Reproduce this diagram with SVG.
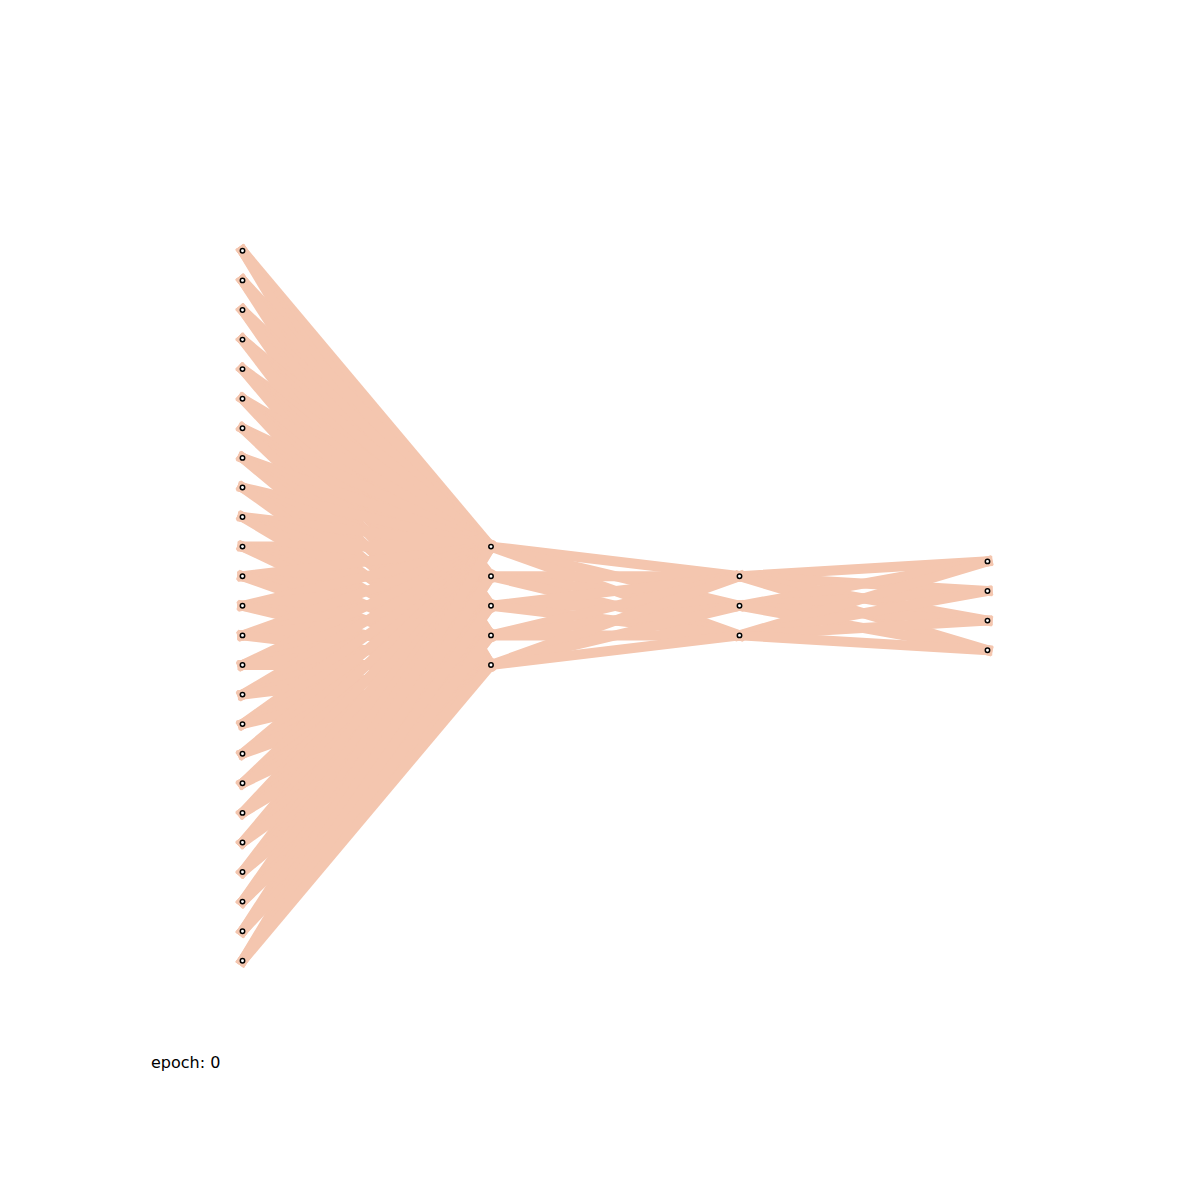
<svg xmlns="http://www.w3.org/2000/svg" width="1200" height="1200" viewBox="0 0 1200 1200">
<style>
.e{stroke:#f4c6af;stroke-width:10;stroke-linecap:square;fill:none}
.n{fill:#ffffff;stroke:#000000;stroke-width:1.5}
.t{font-family:"DejaVu Sans",sans-serif;font-size:16px;fill:#000000}
</style>
<rect width="1200" height="1200" fill="#ffffff"/>
<g transform="translate(0.5,0.8)">
<g id="connectors">
<g id="l0">
<line class="e" x1="242" y1="250" x2="490.5" y2="545.8"/><line class="e" x1="242" y1="250" x2="490.5" y2="575.4"/><line class="e" x1="242" y1="250" x2="490.5" y2="605"/><line class="e" x1="242" y1="250" x2="490.5" y2="634.6"/><line class="e" x1="242" y1="250" x2="490.5" y2="664.2"/>
<line class="e" x1="242" y1="279.6" x2="490.5" y2="545.8"/><line class="e" x1="242" y1="279.6" x2="490.5" y2="575.4"/><line class="e" x1="242" y1="279.6" x2="490.5" y2="605"/><line class="e" x1="242" y1="279.6" x2="490.5" y2="634.6"/><line class="e" x1="242" y1="279.6" x2="490.5" y2="664.2"/>
<line class="e" x1="242" y1="309.2" x2="490.5" y2="545.8"/><line class="e" x1="242" y1="309.2" x2="490.5" y2="575.4"/><line class="e" x1="242" y1="309.2" x2="490.5" y2="605"/><line class="e" x1="242" y1="309.2" x2="490.5" y2="634.6"/><line class="e" x1="242" y1="309.2" x2="490.5" y2="664.2"/>
<line class="e" x1="242" y1="338.8" x2="490.5" y2="545.8"/><line class="e" x1="242" y1="338.8" x2="490.5" y2="575.4"/><line class="e" x1="242" y1="338.8" x2="490.5" y2="605"/><line class="e" x1="242" y1="338.8" x2="490.5" y2="634.6"/><line class="e" x1="242" y1="338.8" x2="490.5" y2="664.2"/>
<line class="e" x1="242" y1="368.3" x2="490.5" y2="545.8"/><line class="e" x1="242" y1="368.3" x2="490.5" y2="575.4"/><line class="e" x1="242" y1="368.3" x2="490.5" y2="605"/><line class="e" x1="242" y1="368.3" x2="490.5" y2="634.6"/><line class="e" x1="242" y1="368.3" x2="490.5" y2="664.2"/>
<line class="e" x1="242" y1="397.9" x2="490.5" y2="545.8"/><line class="e" x1="242" y1="397.9" x2="490.5" y2="575.4"/><line class="e" x1="242" y1="397.9" x2="490.5" y2="605"/><line class="e" x1="242" y1="397.9" x2="490.5" y2="634.6"/><line class="e" x1="242" y1="397.9" x2="490.5" y2="664.2"/>
<line class="e" x1="242" y1="427.5" x2="490.5" y2="545.8"/><line class="e" x1="242" y1="427.5" x2="490.5" y2="575.4"/><line class="e" x1="242" y1="427.5" x2="490.5" y2="605"/><line class="e" x1="242" y1="427.5" x2="490.5" y2="634.6"/><line class="e" x1="242" y1="427.5" x2="490.5" y2="664.2"/>
<line class="e" x1="242" y1="457.1" x2="490.5" y2="545.8"/><line class="e" x1="242" y1="457.1" x2="490.5" y2="575.4"/><line class="e" x1="242" y1="457.1" x2="490.5" y2="605"/><line class="e" x1="242" y1="457.1" x2="490.5" y2="634.6"/><line class="e" x1="242" y1="457.1" x2="490.5" y2="664.2"/>
<line class="e" x1="242" y1="486.7" x2="490.5" y2="545.8"/><line class="e" x1="242" y1="486.7" x2="490.5" y2="575.4"/><line class="e" x1="242" y1="486.7" x2="490.5" y2="605"/><line class="e" x1="242" y1="486.7" x2="490.5" y2="634.6"/><line class="e" x1="242" y1="486.7" x2="490.5" y2="664.2"/>
<line class="e" x1="242" y1="516.2" x2="490.5" y2="545.8"/><line class="e" x1="242" y1="516.2" x2="490.5" y2="575.4"/><line class="e" x1="242" y1="516.2" x2="490.5" y2="605"/><line class="e" x1="242" y1="516.2" x2="490.5" y2="634.6"/><line class="e" x1="242" y1="516.2" x2="490.5" y2="664.2"/>
<line class="e" x1="242" y1="545.8" x2="490.5" y2="545.8"/><line class="e" x1="242" y1="545.8" x2="490.5" y2="575.4"/><line class="e" x1="242" y1="545.8" x2="490.5" y2="605"/><line class="e" x1="242" y1="545.8" x2="490.5" y2="634.6"/><line class="e" x1="242" y1="545.8" x2="490.5" y2="664.2"/>
<line class="e" x1="242" y1="575.4" x2="490.5" y2="545.8"/><line class="e" x1="242" y1="575.4" x2="490.5" y2="575.4"/><line class="e" x1="242" y1="575.4" x2="490.5" y2="605"/><line class="e" x1="242" y1="575.4" x2="490.5" y2="634.6"/><line class="e" x1="242" y1="575.4" x2="490.5" y2="664.2"/>
<line class="e" x1="242" y1="605" x2="490.5" y2="545.8"/><line class="e" x1="242" y1="605" x2="490.5" y2="575.4"/><line class="e" x1="242" y1="605" x2="490.5" y2="605"/><line class="e" x1="242" y1="605" x2="490.5" y2="634.6"/><line class="e" x1="242" y1="605" x2="490.5" y2="664.2"/>
<line class="e" x1="242" y1="634.6" x2="490.5" y2="545.8"/><line class="e" x1="242" y1="634.6" x2="490.5" y2="575.4"/><line class="e" x1="242" y1="634.6" x2="490.5" y2="605"/><line class="e" x1="242" y1="634.6" x2="490.5" y2="634.6"/><line class="e" x1="242" y1="634.6" x2="490.5" y2="664.2"/>
<line class="e" x1="242" y1="664.2" x2="490.5" y2="545.8"/><line class="e" x1="242" y1="664.2" x2="490.5" y2="575.4"/><line class="e" x1="242" y1="664.2" x2="490.5" y2="605"/><line class="e" x1="242" y1="664.2" x2="490.5" y2="634.6"/><line class="e" x1="242" y1="664.2" x2="490.5" y2="664.2"/>
<line class="e" x1="242" y1="693.8" x2="490.5" y2="545.8"/><line class="e" x1="242" y1="693.8" x2="490.5" y2="575.4"/><line class="e" x1="242" y1="693.8" x2="490.5" y2="605"/><line class="e" x1="242" y1="693.8" x2="490.5" y2="634.6"/><line class="e" x1="242" y1="693.8" x2="490.5" y2="664.2"/>
<line class="e" x1="242" y1="723.3" x2="490.5" y2="545.8"/><line class="e" x1="242" y1="723.3" x2="490.5" y2="575.4"/><line class="e" x1="242" y1="723.3" x2="490.5" y2="605"/><line class="e" x1="242" y1="723.3" x2="490.5" y2="634.6"/><line class="e" x1="242" y1="723.3" x2="490.5" y2="664.2"/>
<line class="e" x1="242" y1="752.9" x2="490.5" y2="545.8"/><line class="e" x1="242" y1="752.9" x2="490.5" y2="575.4"/><line class="e" x1="242" y1="752.9" x2="490.5" y2="605"/><line class="e" x1="242" y1="752.9" x2="490.5" y2="634.6"/><line class="e" x1="242" y1="752.9" x2="490.5" y2="664.2"/>
<line class="e" x1="242" y1="782.5" x2="490.5" y2="545.8"/><line class="e" x1="242" y1="782.5" x2="490.5" y2="575.4"/><line class="e" x1="242" y1="782.5" x2="490.5" y2="605"/><line class="e" x1="242" y1="782.5" x2="490.5" y2="634.6"/><line class="e" x1="242" y1="782.5" x2="490.5" y2="664.2"/>
<line class="e" x1="242" y1="812.1" x2="490.5" y2="545.8"/><line class="e" x1="242" y1="812.1" x2="490.5" y2="575.4"/><line class="e" x1="242" y1="812.1" x2="490.5" y2="605"/><line class="e" x1="242" y1="812.1" x2="490.5" y2="634.6"/><line class="e" x1="242" y1="812.1" x2="490.5" y2="664.2"/>
<line class="e" x1="242" y1="841.7" x2="490.5" y2="545.8"/><line class="e" x1="242" y1="841.7" x2="490.5" y2="575.4"/><line class="e" x1="242" y1="841.7" x2="490.5" y2="605"/><line class="e" x1="242" y1="841.7" x2="490.5" y2="634.6"/><line class="e" x1="242" y1="841.7" x2="490.5" y2="664.2"/>
<line class="e" x1="242" y1="871.2" x2="490.5" y2="545.8"/><line class="e" x1="242" y1="871.2" x2="490.5" y2="575.4"/><line class="e" x1="242" y1="871.2" x2="490.5" y2="605"/><line class="e" x1="242" y1="871.2" x2="490.5" y2="634.6"/><line class="e" x1="242" y1="871.2" x2="490.5" y2="664.2"/>
<line class="e" x1="242" y1="900.8" x2="490.5" y2="545.8"/><line class="e" x1="242" y1="900.8" x2="490.5" y2="575.4"/><line class="e" x1="242" y1="900.8" x2="490.5" y2="605"/><line class="e" x1="242" y1="900.8" x2="490.5" y2="634.6"/><line class="e" x1="242" y1="900.8" x2="490.5" y2="664.2"/>
<line class="e" x1="242" y1="930.4" x2="490.5" y2="545.8"/><line class="e" x1="242" y1="930.4" x2="490.5" y2="575.4"/><line class="e" x1="242" y1="930.4" x2="490.5" y2="605"/><line class="e" x1="242" y1="930.4" x2="490.5" y2="634.6"/><line class="e" x1="242" y1="930.4" x2="490.5" y2="664.2"/>
<line class="e" x1="242" y1="960" x2="490.5" y2="545.8"/><line class="e" x1="242" y1="960" x2="490.5" y2="575.4"/><line class="e" x1="242" y1="960" x2="490.5" y2="605"/><line class="e" x1="242" y1="960" x2="490.5" y2="634.6"/><line class="e" x1="242" y1="960" x2="490.5" y2="664.2"/>
</g>
<g id="l1">
<line class="e" x1="490.5" y1="545.8" x2="739" y2="575.4"/><line class="e" x1="490.5" y1="545.8" x2="739" y2="605"/><line class="e" x1="490.5" y1="545.8" x2="739" y2="634.6"/>
<line class="e" x1="490.5" y1="575.4" x2="739" y2="575.4"/><line class="e" x1="490.5" y1="575.4" x2="739" y2="605"/><line class="e" x1="490.5" y1="575.4" x2="739" y2="634.6"/>
<line class="e" x1="490.5" y1="605" x2="739" y2="575.4"/><line class="e" x1="490.5" y1="605" x2="739" y2="605"/><line class="e" x1="490.5" y1="605" x2="739" y2="634.6"/>
<line class="e" x1="490.5" y1="634.6" x2="739" y2="575.4"/><line class="e" x1="490.5" y1="634.6" x2="739" y2="605"/><line class="e" x1="490.5" y1="634.6" x2="739" y2="634.6"/>
<line class="e" x1="490.5" y1="664.2" x2="739" y2="575.4"/><line class="e" x1="490.5" y1="664.2" x2="739" y2="605"/><line class="e" x1="490.5" y1="664.2" x2="739" y2="634.6"/>
</g>
<g id="l2">
<line class="e" x1="739" y1="575.4" x2="987" y2="560.6"/><line class="e" x1="739" y1="575.4" x2="987" y2="590.2"/><line class="e" x1="739" y1="575.4" x2="987" y2="619.8"/><line class="e" x1="739" y1="575.4" x2="987" y2="649.4"/>
<line class="e" x1="739" y1="605" x2="987" y2="560.6"/><line class="e" x1="739" y1="605" x2="987" y2="590.2"/><line class="e" x1="739" y1="605" x2="987" y2="619.8"/><line class="e" x1="739" y1="605" x2="987" y2="649.4"/>
<line class="e" x1="739" y1="634.6" x2="987" y2="560.6"/><line class="e" x1="739" y1="634.6" x2="987" y2="590.2"/><line class="e" x1="739" y1="634.6" x2="987" y2="619.8"/><line class="e" x1="739" y1="634.6" x2="987" y2="649.4"/>
</g>
</g>
<g id="nodes">
<g id="in0"><circle class="n" cx="242" cy="250" r="2.2"/></g>
<g id="in1"><circle class="n" cx="242" cy="279.6" r="2.2"/></g>
<g id="in2"><circle class="n" cx="242" cy="309.2" r="2.2"/></g>
<g id="in3"><circle class="n" cx="242" cy="338.8" r="2.2"/></g>
<g id="in4"><circle class="n" cx="242" cy="368.3" r="2.2"/></g>
<g id="in5"><circle class="n" cx="242" cy="397.9" r="2.2"/></g>
<g id="in6"><circle class="n" cx="242" cy="427.5" r="2.2"/></g>
<g id="in7"><circle class="n" cx="242" cy="457.1" r="2.2"/></g>
<g id="in8"><circle class="n" cx="242" cy="486.7" r="2.2"/></g>
<g id="in9"><circle class="n" cx="242" cy="516.2" r="2.2"/></g>
<g id="in10"><circle class="n" cx="242" cy="545.8" r="2.2"/></g>
<g id="in11"><circle class="n" cx="242" cy="575.4" r="2.2"/></g>
<g id="in12"><circle class="n" cx="242" cy="605" r="2.2"/></g>
<g id="in13"><circle class="n" cx="242" cy="634.6" r="2.2"/></g>
<g id="in14"><circle class="n" cx="242" cy="664.2" r="2.2"/></g>
<g id="in15"><circle class="n" cx="242" cy="693.8" r="2.2"/></g>
<g id="in16"><circle class="n" cx="242" cy="723.3" r="2.2"/></g>
<g id="in17"><circle class="n" cx="242" cy="752.9" r="2.2"/></g>
<g id="in18"><circle class="n" cx="242" cy="782.5" r="2.2"/></g>
<g id="in19"><circle class="n" cx="242" cy="812.1" r="2.2"/></g>
<g id="in20"><circle class="n" cx="242" cy="841.7" r="2.2"/></g>
<g id="in21"><circle class="n" cx="242" cy="871.2" r="2.2"/></g>
<g id="in22"><circle class="n" cx="242" cy="900.8" r="2.2"/></g>
<g id="in23"><circle class="n" cx="242" cy="930.4" r="2.2"/></g>
<g id="in24"><circle class="n" cx="242" cy="960" r="2.2"/></g>
<g id="h1_0"><circle class="n" cx="490.5" cy="545.8" r="2.2"/></g>
<g id="h1_1"><circle class="n" cx="490.5" cy="575.4" r="2.2"/></g>
<g id="h1_2"><circle class="n" cx="490.5" cy="605" r="2.2"/></g>
<g id="h1_3"><circle class="n" cx="490.5" cy="634.6" r="2.2"/></g>
<g id="h1_4"><circle class="n" cx="490.5" cy="664.2" r="2.2"/></g>
<g id="h2_0"><circle class="n" cx="739" cy="575.4" r="2.2"/></g>
<g id="h2_1"><circle class="n" cx="739" cy="605" r="2.2"/></g>
<g id="h2_2"><circle class="n" cx="739" cy="634.6" r="2.2"/></g>
<g id="out0"><circle class="n" cx="987" cy="560.6" r="2.2"/></g>
<g id="out1"><circle class="n" cx="987" cy="590.2" r="2.2"/></g>
<g id="out2"><circle class="n" cx="987" cy="619.8" r="2.2"/></g>
<g id="out3"><circle class="n" cx="987" cy="649.4" r="2.2"/></g>
</g>
</g>
<text class="t" x="151" y="1068">epoch: 0</text>
</svg>
